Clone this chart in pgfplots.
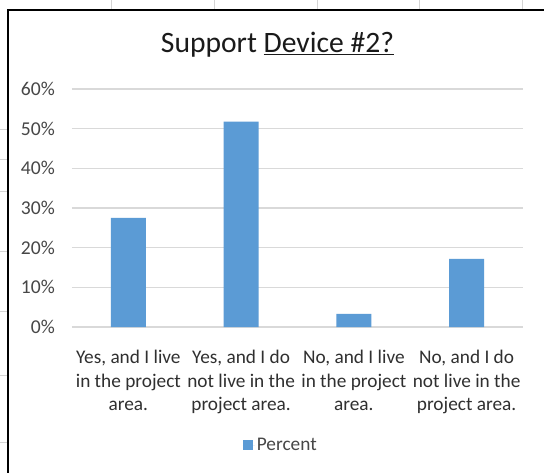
\documentclass[border=0pt]{standalone}
\usepackage{fontspec}
\setmainfont{Carlito}
\usepackage{pgfplots}
\pgfplotsset{compat=1.18}
\definecolor{barblue}{HTML}{5B9BD5}
\definecolor{gridgray}{HTML}{D9D9D9}
\definecolor{ticktxt}{HTML}{474747}
\definecolor{labtxt}{HTML}{303030}
\definecolor{titletxt}{HTML}{1A1A1A}
\definecolor{sheet}{HTML}{D4D4D4}
\begin{document}
\begin{tikzpicture}
\useasboundingbox (0pt,0pt) rectangle (544pt,472pt);
\fill[white] (0pt,0pt) rectangle (544pt,472pt);
% spreadsheet cell lines outside the chart frame
\foreach \yy in {130,160,192,252,312,375,442}
  \draw[sheet, line width=1pt] (0pt,{(472-\yy)*1pt}) -- (8pt,{(472-\yy)*1pt});
\foreach \xx in {111,214,317,419,522}
  \draw[sheet, line width=1pt] ({\xx*1pt},462pt) -- ({\xx*1pt},472pt);
\begin{axis}[
  at={(72pt,145pt)}, anchor=south west,
  scale only axis, width=451pt, height=238pt,
  xmin=-0.5, xmax=3.5, ymin=0, ymax=60,
  ybar, bar width=35pt,
  axis line style={draw=none},
  tick style={draw=none},
  ymajorgrids, grid style={gridgray, line width=1.2pt},
  ytick={0,10,20,30,40,50,60},
  yticklabel={\pgfmathprintnumber{\tick}\%},
  /pgf/number format/assume math mode=true,
  yticklabel style={font=\fontsize{19.6}{22}\selectfont, text=ticktxt, anchor=east, inner sep=0pt, xshift=-17pt},
  xtick={0,1,2,3},
  xticklabels={{Yes, and I live\\in the project\\area.},{Yes, and I do\\not live in the\\project area.},{No, and I live\\in the project\\area.},{No, and I do\\not live in the\\project area.}},
  xticklabel style={font=\fontsize{19.3}{23.5}\selectfont, text=labtxt, align=center, anchor=north, inner sep=0pt, yshift=-19pt},
  legend style={at={(0.463,-0.496)}, anchor=center, draw=none, fill=none,
    font=\fontsize{19.3}{22}\selectfont, text=ticktxt, inner sep=0pt,
    legend cell align=left},
  legend image code/.code={\fill[barblue] (0pt,-5pt) rectangle (10pt,5pt); \path (0pt,0pt) -- (12pt,0pt);},
]
\addplot[fill=barblue, draw=none] coordinates {(0,27.5) (1,51.8) (2,3.3) (3,17.2)};
\legend{Percent}
\end{axis}
\node[anchor=base, font=\fontsize{29.6}{33}\selectfont, text=titletxt] at (277.5pt,419pt) {Support \underline{Device \#2?}};
\draw[black, line width=2.5pt] (8pt,-5pt) -- (8pt,462pt) -- (550pt,462pt);
\end{tikzpicture}
\end{document}
